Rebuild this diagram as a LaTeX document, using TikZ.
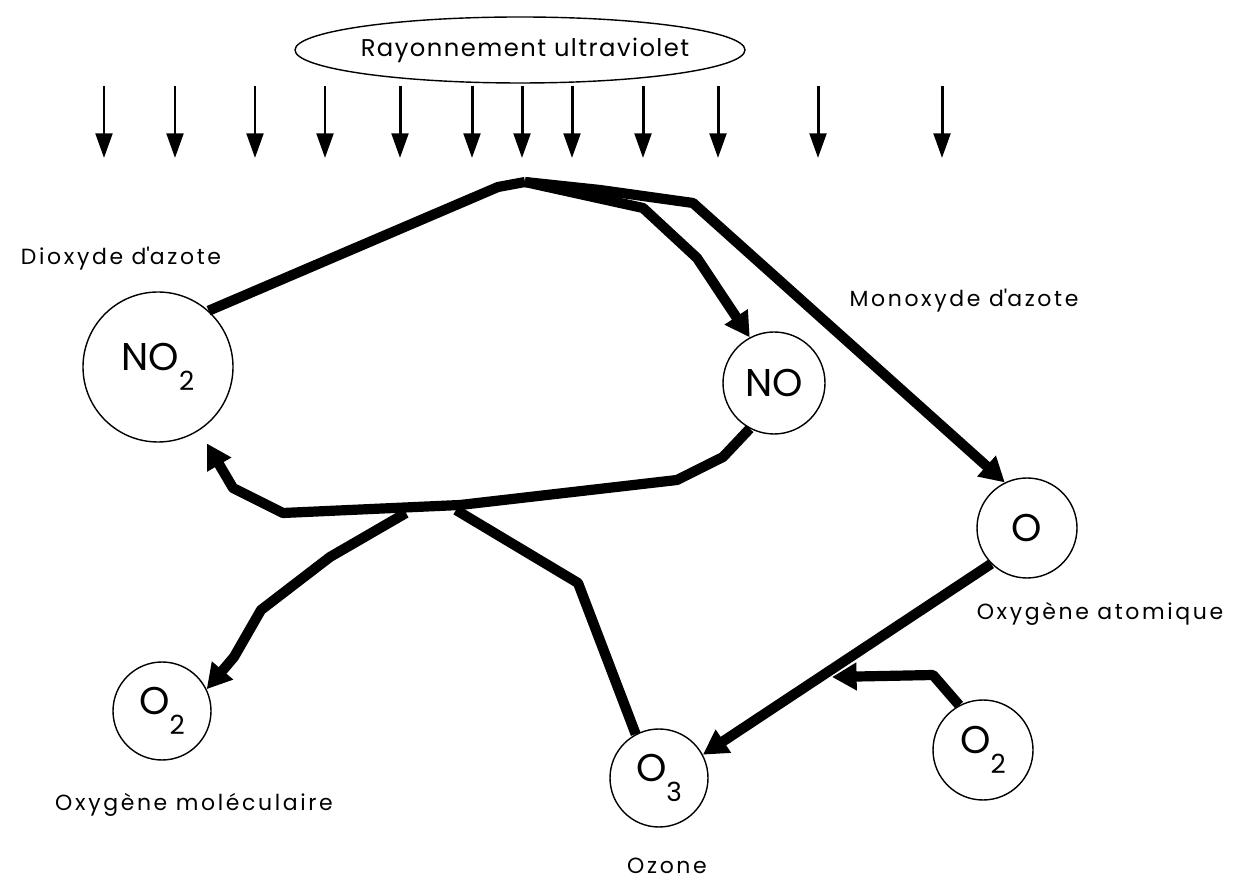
\documentclass[tikz,border=0pt]{standalone}
\usepackage{fontspec}
\setmainfont{Poppins}
\newfontfamily\labelfont[LetterSpace=12]{Poppins}
\newfontfamily\titlefont[LetterSpace=6]{Poppins}
\usetikzlibrary{arrows.meta,shapes.geometric}

\newcommand{\chemsub}[1]{\raisebox{-.5em}{\fontsize{15}{15}\selectfont #1}}

\tikzset{
  species/.style={circle, draw, line width=.8pt, inner sep=0pt,
    font=\fontsize{22}{22}\selectfont},
  caption/.style={anchor=base, font=\labelfont\fontsize{12.5}{13}\selectfont},
  ray/.style={line width=1.7pt, -{Triangle[length=14pt,width=9.5pt]}},
  bond/.style={line width=5.8pt, line join=round},
  flow/.style={bond, -{Triangle[length=14pt,width=15pt]}},
}

\begin{document}
\begin{tikzpicture}
  \useasboundingbox (0,0) rectangle (24.72,17.64);

  % source
  \node[font=\titlefont\fontsize{13.8}{14}\selectfont] (uv) at (10.50,16.64) {Rayonnement ultraviolet};
  \draw[line width=.8pt] (10.40,16.64) ellipse [x radius=4.5, y radius=0.66];

  \foreach \x [count=\i] in {2.08,3.50,5.10,6.50,8.00,9.44,10.44,11.44,12.86,14.36,16.36,18.84} {
    \coordinate (top\i) at (\x,15.92);
    \coordinate (bot\i) at (\x,14.48);
    \draw[ray] (top\i) -- (bot\i);
  }

  % species
  \node[species, minimum size=3.0cm]  (no2) at (3.16,10.30) {NO\chemsub{2}};
  \node[species, minimum size=2.04cm] (no)  at (15.48,9.98) {NO};
  \node[species, minimum size=2.0cm]  (o)   at (20.54,7.08) {O};
  \node[species, minimum size=1.96cm] (o2a) at (3.24,3.42)  {O\chemsub{2}};
  \node[species, minimum size=1.96cm] (o3)  at (13.18,2.08) {O\chemsub{3}};
  \node[species, minimum size=2.0cm]  (o2b) at (19.66,2.64) {O\chemsub{2}};

  \node[caption] (lno2) at (2.42,12.34)  {Dioxyde d\textquotesingle azote};
  \node[caption] (lno)  at (19.28,11.50) {Monoxyde d\textquotesingle azote};
  \node[caption] (lo)   at (22.00,5.24)  {Oxygène atomique};
  \node[caption] (lo2a) at (3.88,1.44)   {Oxygène moléculaire};
  \node[caption] (lo3)  at (13.34,0.18)  {Ozone};

  % photolysis
  \coordinate (split) at (10.50,14.00);
  \draw[bond] (no2.48) -- (9.96,13.90) -- (split);
  \draw[flow] (split) -- (12.86,13.48) -- (13.94,12.48) -- (no.118);
  \draw[flow] (split) -- (12.00,13.84) -- (13.86,13.58) -- (o.116);

  % ozone formation
  \coordinate (hit) at (16.64,4.10);
  \draw[flow] (o.-135) -- (o3.28);
  \draw[flow] (o2b.118) -- (18.66,4.14) -- (hit);

  % titration
  \coordinate (in)  at (9.12,7.44);
  \coordinate (out) at (8.12,7.38);
  \draw[flow, shorten >=.3cm] (no.-118) -- (14.46,8.50) -- (13.54,8.04) -- (9.20,7.54)
    -- (5.66,7.38) -- (4.66,7.88) -- (no2.-57);
  \draw[bond] (o3.118) -- (11.56,5.98) -- (in);
  \draw[flow] (out) -- (6.60,6.50) -- (5.22,5.44) -- (4.68,4.50) -- (o2a.26);
\end{tikzpicture}
\end{document}
